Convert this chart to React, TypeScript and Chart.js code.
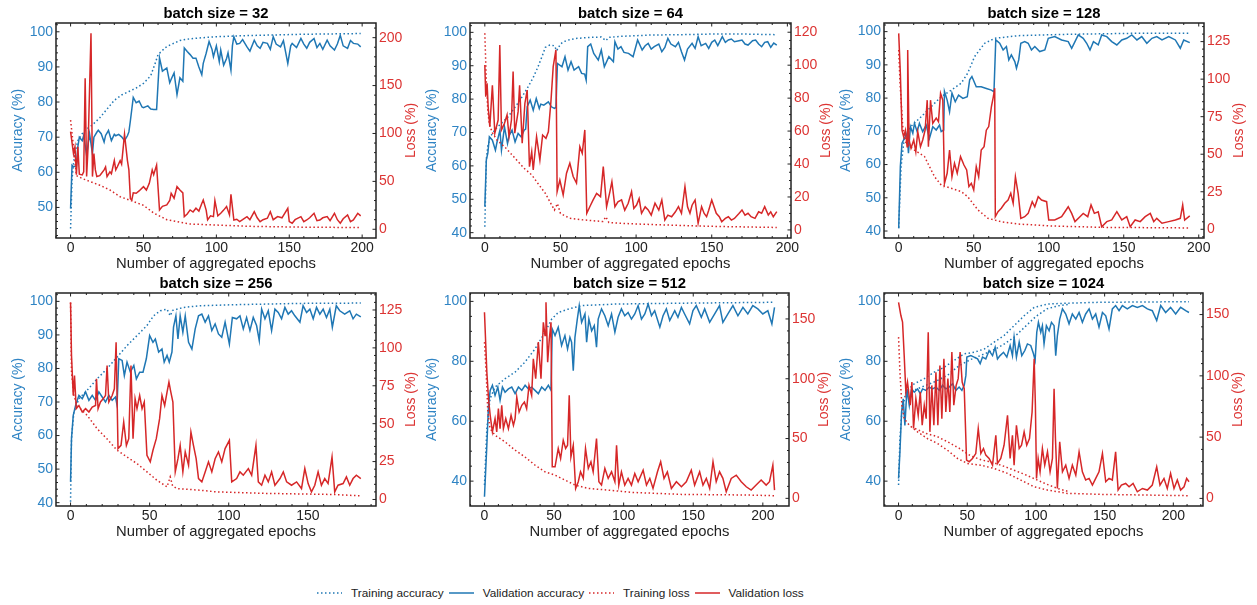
import React, { useEffect, useRef } from "react";
import { Chart, registerables } from "chart.js";

Chart.register(...registerables);

// ---------- labels / ticks ----------
const PANEL_TITLES = ["batch size = 32", "batch size = 64", "batch size = 128", "batch size = 256", "batch size = 512", "batch size = 1024"];
const X_LABEL = "Number of aggregated epochs";
const ACC_LABEL = "Accuracy (%)";
const LOSS_LABEL = "Loss (%)";
const LEGEND_LABELS = ["Training accuracy", "Validation accuracy", "Training loss", "Validation loss"];

const X_TICKS_200 = [0, 50, 100, 150, 200];
const X_TICKS_150 = [0, 50, 100, 150];
const ACC_TICKS_50 = [50, 60, 70, 80, 90, 100];
const ACC_TICKS_40 = [40, 50, 60, 70, 80, 90, 100];
const ACC_TICKS_20 = [40, 60, 80, 100];
const LOSS_TICKS_200 = [0, 50, 100, 150, 200];
const LOSS_TICKS_120 = [0, 20, 40, 60, 80, 100, 120];
const LOSS_TICKS_125 = [0, 25, 50, 75, 100, 125];
const LOSS_TICKS_150 = [0, 50, 100, 150];

// ---------- batch size 32 ----------
const TRAIN_ACC_EP_32 = [0, 1, 2, 3, 5, 8, 10, 15, 20, 25, 30, 35, 40, 45, 50, 55, 58, 60, 65, 68, 75, 80, 90, 100, 120, 140, 160, 180, 199];
const TRAIN_ACC_32 = [44, 58, 62.5, 65.5, 69, 71, 72, 73.5, 75.5, 78, 80.5, 82, 83, 84, 85.3, 87.5, 91, 93.5, 95.5, 96.2, 97.5, 97.9, 98.3, 98.6, 98.9, 99.1, 99.3, 99.4, 99.5];
const TRAIN_LOSS_EP_32 = [0, 2, 4, 8, 13, 20, 27, 34, 43, 50, 57, 66, 82, 98, 125, 160, 199];
const TRAIN_LOSS_32 = [114, 86, 56, 53, 50, 46, 41, 34, 29, 25, 17, 10, 5.5, 4.5, 3, 2.2, 1.8];
const VAL_ACC_EP_32 = [0, 1, 2, 4, 5, 6, 8, 9, 11, 13, 15, 16, 18, 19, 21, 23, 24, 26, 28, 30, 31, 33, 35, 37, 39, 40, 41, 43, 45, 47, 49, 50, 53, 55, 57, 59, 61, 63, 66, 68, 69, 71, 73, 75, 77, 78, 80, 82, 84, 86, 88, 90, 91, 93, 95, 97, 98, 100, 102, 103, 105, 107, 108, 110, 111, 112, 114, 116, 118, 121, 123, 126, 128, 130, 132, 135, 137, 139, 141, 144, 146, 149, 151, 152, 155, 158, 160, 162, 164, 167, 169, 171, 173, 176, 178, 181, 183, 185, 187, 190, 192, 194, 197, 199];
const VAL_ACC_32 = [49.7, 62, 61.6, 61.8, 67.3, 70, 69, 70.5, 64.8, 71, 65.3, 70, 71.4, 72, 71, 68.6, 70.5, 71.9, 69, 70.8, 70.4, 70.8, 70.1, 69, 70.4, 71.5, 74.6, 81.3, 79.8, 80.3, 78.6, 78.4, 78.9, 78, 77.9, 77.9, 92.6, 88.8, 89.7, 85.5, 86.5, 88.3, 82.1, 86.9, 85.9, 95.4, 94.4, 93.5, 92.5, 92.5, 90, 87.8, 91, 93.9, 97.2, 95, 92.9, 96, 91.5, 94.8, 90.5, 92.4, 94, 89.1, 96, 98.6, 96.5, 96.7, 97.8, 95.7, 94.5, 97.6, 96, 95.3, 97, 96.7, 95, 98.6, 96.5, 95.7, 97.5, 91, 96, 96.7, 95.5, 98.1, 96.5, 95.3, 97, 98.1, 95.5, 96.7, 95, 97.6, 96, 94.8, 96.5, 99, 96, 95.3, 97.5, 96.7, 96.5, 95.7];
const VAL_LOSS_EP_32 = [0, 2, 3, 4, 5, 6, 8, 9, 10, 11, 12, 14, 15, 16, 17, 18, 20, 21, 23, 24, 25, 27, 28, 30, 31, 32, 34, 35, 37, 39, 40, 41, 42, 43, 45, 47, 50, 52, 54, 56, 57, 59, 61, 63, 66, 68, 69, 71, 73, 75, 77, 78, 80, 82, 84, 86, 88, 90, 91, 93, 94, 96, 98, 99, 101, 103, 105, 107, 109, 110, 112, 114, 116, 118, 121, 123, 126, 128, 130, 132, 135, 137, 139, 142, 145, 149, 150, 152, 154, 158, 160, 162, 164, 167, 169, 171, 173, 176, 178, 181, 183, 185, 187, 190, 192, 194, 197, 199];
const VAL_LOSS_32 = [102, 79, 86, 57, 86, 57.5, 56.7, 60, 157.6, 55, 86, 204.6, 55, 79, 62, 55, 56, 58, 62, 65, 55, 60, 58, 71.7, 62, 65, 71.7, 68, 99.2, 71.7, 62, 32, 30.6, 38, 37.6, 40, 44.5, 41, 48, 62, 57, 67, 20.2, 24, 25.4, 30, 37.6, 32.4, 44.5, 41, 38, 13.2, 16, 20.2, 18, 22, 19, 27, 30.6, 20, 9.8, 14, 13.2, 30, 14, 16.7, 20, 23.7, 15, 36.5, 9.7, 10.5, 8, 10, 13.2, 10, 18.4, 12, 8, 10, 11.5, 18.4, 10, 13.2, 12, 21.9, 8, 6.3, 10, 13.2, 8, 9.7, 12, 16.7, 9, 9.7, 12, 13.2, 9, 16.7, 10, 6.3, 11, 15, 8, 9.7, 16.7, 14];

// ---------- batch size 64 ----------
const TRAIN_ACC_EP_64 = [0, 1, 2, 4, 7, 11, 15, 19, 23, 26, 29, 32, 35, 38, 40, 43, 46, 47.5, 50, 52, 56, 61, 70, 77, 80, 82, 90, 100, 110, 130, 150, 170, 193];
const TRAIN_ACC_64 = [41.8, 62, 66, 69, 71, 72.8, 74.5, 77, 79.5, 81.7, 84, 86.5, 89.5, 93, 95.5, 96.2, 96, 94.5, 96.5, 97.2, 97.8, 98.2, 98.5, 98.6, 97.5, 98.5, 98.8, 99, 99.2, 99.3, 99.5, 99.5, 99.3];
const TRAIN_LOSS_EP_64 = [0, 1, 2, 3, 5, 8, 14, 21, 26, 31, 35, 40, 43, 46, 48, 50, 56, 65, 78, 80, 82, 90, 100, 120, 140, 160, 193];
const TRAIN_LOSS_64 = [119.4, 90, 72, 64, 59, 54.6, 49.6, 42.5, 37.4, 33.4, 28.3, 22.2, 17.1, 12.1, 16, 10, 7.1, 6.1, 5.1, 8, 4.5, 4, 3.6, 3, 2.4, 2, 1.5];
const VAL_ACC_EP_64 = [0, 1, 2, 3, 5, 7, 8, 10, 11, 13, 15, 16, 18, 20, 22, 24, 26, 27, 28, 30, 32, 34, 36, 37, 39, 42, 44, 46, 47, 48, 51, 53, 55, 57, 59, 62, 64, 66, 67, 68, 70, 72, 75, 77, 79, 82, 85, 86, 88, 90, 92, 95, 98, 101, 104, 106, 108, 110, 112, 115, 117, 119, 121, 123, 126, 128, 130, 132, 134, 137, 139, 141, 143, 146, 148, 150, 152, 154, 157, 159, 161, 163, 165, 168, 170, 172, 174, 177, 179, 181, 183, 185, 187, 189, 191, 193];
const VAL_ACC_64 = [47.8, 61.8, 63.8, 68.7, 67.7, 64.7, 67, 70.7, 64.7, 71.7, 66.7, 69, 70.7, 67.2, 69.7, 68.7, 70.7, 71, 77.7, 79.7, 76.7, 80.2, 77.2, 78.5, 78.2, 79.2, 77.7, 77.2, 77.5, 90.7, 89.7, 92.7, 88.7, 91.2, 88.7, 89.7, 87.7, 87.5, 85.7, 95.7, 96.5, 93.7, 91.7, 94.7, 89.7, 92.7, 91.2, 97.2, 95, 95.7, 94, 93.7, 92.7, 97.7, 94.7, 96, 96.7, 95, 95.7, 96.5, 94.2, 95.5, 98.2, 96.5, 95.7, 97, 94.2, 91.7, 95, 96.7, 95.2, 98.7, 96, 96.7, 95.2, 97, 97.7, 96, 98.7, 97, 97.7, 98, 97.2, 97.5, 97.7, 96.5, 96.2, 97.5, 97.7, 96.5, 95.7, 97, 97.2, 95.5, 96.8, 96.2];
const VAL_LOSS_EP_64 = [0, 0.6, 1.5, 2.2, 3.3, 5, 6.6, 8.8, 9.9, 11, 13, 14.7, 16, 17.6, 18.7, 19.8, 22, 23, 24.7, 26.5, 28, 29.5, 31, 32, 34.2, 36.4, 38.2, 40.4, 42, 43.7, 45.2, 47, 47.8, 49.6, 51.8, 54, 56.2, 58.4, 60.6, 62.8, 64.4, 66.1, 67.4, 69.4, 71.6, 73.9, 76.5, 78.3, 80.5, 82.7, 84, 86, 88, 90.4, 92.5, 94.8, 97, 98.5, 100.3, 102, 103.6, 106, 108, 110, 112.5, 115, 117, 119, 121, 123.5, 126, 128, 130, 132.3, 134, 135.6, 137, 139, 141, 143.3, 145, 146.6, 148, 150, 153, 155, 156.6, 159, 161, 163, 165, 168, 170, 172, 174, 176, 178.6, 181, 183, 185, 187.4, 189, 190.7, 193];
const VAL_LOSS_64 = [100.1, 80.9, 89, 74.8, 62.7, 87.8, 58.7, 66.7, 112.3, 60.7, 64.7, 69.8, 56.6, 66.7, 96.1, 58.7, 71.8, 87.8, 52.6, 76.9, 84.9, 38.4, 47.5, 36.4, 56.6, 42.5, 57.6, 55.6, 59.6, 77.9, 99.1, 109.3, 23.3, 30.3, 21.2, 34.4, 40.5, 32.4, 28.4, 50.5, 46.5, 60.7, 10.1, 14.1, 18.2, 22.2, 20.2, 38.4, 14.1, 23.3, 29.3, 14.1, 17, 18.2, 12, 16.2, 23.2, 13, 15.1, 19, 10.1, 14, 12.1, 9, 16.2, 12, 18.2, 6, 9, 8, 11, 14.1, 10.1, 26.3, 14, 10.1, 15, 18.2, 4, 14.1, 10, 8, 12, 18.2, 10.1, 8, 5, 7, 8, 6, 7, 10, 12.1, 9, 10.1, 8, 7, 11, 10.1, 14.1, 9.1, 11, 8, 11.1];

// ---------- batch size 128 ----------
const TRAIN_ACC_EP_128 = [0, 1.6, 3.8, 8, 15, 21.6, 28.3, 35, 41.7, 46, 50.6, 57.3, 64, 80, 113, 157, 194];
const TRAIN_ACC_128 = [41, 59.4, 68.4, 71.4, 74.4, 77.4, 80.4, 82.4, 84.5, 87.5, 92.5, 96.5, 98, 98.8, 99.2, 99.5, 99.5];
const TRAIN_LOSS_EP_128 = [0, 0.9, 2.7, 4.9, 10.5, 17.2, 23.9, 28.3, 35, 41.7, 46, 52.8, 59.5, 68.5, 79.6, 102, 135, 194];
const TRAIN_LOSS_128 = [119.4, 97.2, 68.4, 57.3, 52.8, 48.4, 35, 29.5, 27.3, 25.1, 21.7, 12.9, 7.3, 5, 3.5, 2.2, 1.3, 0.9];
const VAL_ACC_EP_128 = [0, 1.1, 2.2, 3.8, 5.6, 6.5, 7.8, 9.4, 10.5, 12.3, 13.8, 16, 18.3, 20.5, 22.7, 25, 27.2, 28.3, 30, 30.5, 32.3, 33.9, 35.5, 37.7, 39.9, 42.8, 45.7, 47.3, 48.8, 51.7, 55, 58.4, 61.8, 63.5, 64.7, 67.3, 69.6, 71.8, 73.4, 75.1, 77.4, 78.5, 80, 81.4, 84, 86.3, 88.5, 90.7, 94, 97.4, 99.7, 104, 108.6, 113, 115.3, 117.5, 119.7, 123, 125.3, 127.5, 129.8, 133, 135.3, 138.7, 142, 145.4, 148.7, 152, 155.4, 158.8, 162, 165.4, 168.8, 172, 175.5, 180, 184.4, 187.7, 190, 194];
const VAL_ACC_128 = [40.8, 59.4, 66.4, 67.9, 69.4, 63.4, 71.4, 69.4, 72.4, 69.9, 72.4, 69.9, 71.9, 67.9, 71.4, 70.4, 71.9, 69.9, 70.4, 82, 79.4, 75.9, 81.5, 78.9, 80.9, 79.9, 80.4, 85.5, 86.5, 83.4, 83.4, 82.9, 82.4, 81.9, 97.5, 96.5, 94.5, 95.5, 91.5, 93, 91, 89, 91.5, 96.5, 97, 96.5, 94.5, 95.5, 94, 94.5, 98, 98.5, 97.5, 97, 95, 97, 99, 98, 96.5, 94.5, 97, 96, 99, 98.5, 97, 96, 97.5, 98, 99, 97.5, 98.5, 96.5, 98, 98.5, 97.5, 98.5, 97.5, 95, 97.5, 96.7];
const VAL_LOSS_EP_128 = [0, 1.1, 2.2, 3.3, 4.5, 5.6, 6, 6.9, 8.2, 10, 11.4, 12.7, 14.5, 16, 17.6, 19, 19.8, 21.2, 22.7, 25, 26.5, 27.9, 29.4, 30.5, 32.3, 33.9, 35.5, 37.2, 39, 41.2, 43.5, 45.3, 46.8, 48.4, 50, 51.7, 53.3, 55, 56.9, 58.4, 60, 61.8, 63.1, 64, 64.4, 66.2, 68.4, 70.7, 72.9, 74.7, 76.3, 77.8, 79.6, 81.4, 84, 86.3, 89, 90.7, 93, 95.2, 98.6, 100, 104, 108.6, 110.8, 113, 115.3, 117.5, 120.8, 123, 126, 128.2, 130.4, 133, 135.3, 138.7, 142, 145.4, 148.7, 152, 154.3, 157.6, 161, 164.3, 167.7, 170, 172, 175.5, 180, 184.4, 187.7, 189.3, 190.6, 194];
const VAL_LOSS_128 = [130.5, 103.9, 66.1, 61.7, 66, 55, 119.4, 59.5, 54, 59.5, 51.7, 65, 55, 59.5, 66, 86, 55, 86, 70.6, 74, 71.7, 90.6, 86, 30.6, 37.3, 52.8, 35, 43.9, 37.3, 48.4, 42.8, 39.5, 28.4, 30.6, 26.2, 41.7, 35, 52.8, 55, 66, 68.4, 81.7, 88.4, 94, 8.4, 11.7, 14, 17.3, 19.5, 24, 17.3, 35, 24, 7.3, 8.4, 10.6, 18.4, 15, 21.7, 19.5, 18.4, 6.2, 6.2, 8.4, 11.7, 15, 10.6, 5.1, 8.4, 10.6, 8.4, 16.2, 10.6, 11.7, 1.7, 5.1, 6.2, 11.7, 6.2, 8.4, 1.7, 6.2, 5.1, 8.4, 10.6, 5.1, 7.3, 4, 5.1, 6.2, 7.3, 16.2, 6.2, 8.9];

// ---------- batch size 256 ----------
const TRAIN_ACC_EP_256 = [0, 0.6, 2.1, 5.3, 10.5, 16.8, 23, 29.4, 35.7, 42, 48.3, 52.5, 56.7, 61, 63, 64.5, 71.4, 82, 103, 145, 183.5];
const TRAIN_ACC_256 = [40.3, 59.1, 67, 71, 73.5, 76.9, 79.9, 83.4, 86.8, 89.8, 92.8, 95.7, 97.2, 97.7, 95.7, 97.3, 98.2, 98.7, 99, 99.4, 99.5];
const TRAIN_LOSS_EP_256 = [0, 0.6, 2.1, 4.2, 10.5, 16.8, 23, 29.4, 35.7, 42, 48.3, 54.6, 61, 63, 64.5, 67.2, 82, 92.4, 124, 166, 183.5];
const TRAIN_LOSS_256 = [130, 84, 68.6, 62, 55.5, 46.7, 40, 32.5, 28, 23.7, 18.2, 12.7, 8.3, 14.9, 9, 7.2, 6.1, 5, 4, 3.3, 2.4];
const VAL_ACC_EP_256 = [0, 0.6, 1.7, 3.2, 5.3, 7.4, 9.5, 11.6, 13.7, 15.8, 17.9, 20, 22.1, 24.2, 26.3, 28.4, 29.4, 30.5, 32.6, 34, 35.7, 37.8, 40, 41.6, 43.7, 45.8, 47.9, 50, 52.1, 53.6, 55.7, 57.8, 59.2, 61, 62.4, 64.1, 65.1, 66.6, 67.9, 69.3, 71, 72.5, 74.6, 76.7, 78.8, 80.9, 83, 85.1, 87.2, 89.3, 91.4, 93.5, 95.6, 97.7, 100.4, 102.3, 105, 107.1, 109.2, 111.3, 113.4, 115.5, 117.6, 119.3, 120.8, 122.9, 125, 127.1, 129.2, 131.3, 133.4, 135.5, 137.6, 139.7, 141.8, 145, 147, 149.2, 151.3, 153.4, 155.5, 157.6, 159.7, 161.8, 163.9, 165.5, 168, 170.2, 173.3, 176.5, 178.6, 180.7, 183.5];
const VAL_ACC_256 = [46.2, 59.1, 66, 69, 72, 71, 73, 70.5, 72, 70.5, 73, 71.5, 70, 72, 70.5, 71.5, 69, 82.9, 82.4, 77.9, 81.9, 78.9, 80.9, 76.9, 78.9, 78.9, 82.9, 89.8, 87.8, 88.8, 84.9, 85.8, 81.9, 83.9, 81.9, 84.9, 92.3, 95.7, 88.8, 95.7, 90.8, 95.7, 87.8, 85.8, 91.8, 95.7, 96.2, 93.8, 95.7, 91.3, 93.3, 90.3, 89.3, 93.8, 87.3, 95.2, 94.8, 95.7, 91.8, 95.2, 91.3, 95.2, 92.8, 88.3, 97.7, 94.8, 97.2, 91.3, 97.7, 96.7, 94.8, 98.2, 96.2, 97.2, 95.7, 93.8, 98.7, 96.7, 97.7, 94.8, 98.2, 96.2, 97.7, 95.2, 97.7, 92.3, 98.7, 97.2, 96.2, 97.2, 94.8, 96.2, 95.4];
const VAL_LOSS_EP_256 = [0, 0.6, 1.7, 2.5, 3.6, 5.3, 7.4, 9.5, 11.6, 13.7, 15.8, 16.4, 17.4, 18.9, 20.6, 22.1, 23.1, 24.2, 26.3, 27.7, 28.8, 30, 31.9, 33.6, 35.3, 36.8, 38.2, 39.5, 40.8, 42, 43.7, 45.2, 46.6, 48.3, 50.4, 52.1, 54.2, 56.3, 57.8, 59.5, 61, 62.2, 63.4, 64.7, 66.2, 67.9, 69.3, 71, 72.5, 74.6, 76.1, 77.7, 79.4, 80.9, 83, 85.1, 87.2, 89.3, 91.4, 93.5, 95.6, 97.7, 100.4, 101.9, 105, 107.1, 109.2, 112.4, 114.5, 117.2, 118.7, 120.8, 122.9, 125, 127.1, 129.2, 132.4, 134.5, 136.6, 139.7, 142.9, 146, 148.1, 150.2, 152.3, 154.4, 156.5, 158.6, 160.7, 162.8, 165.3, 167, 169.1, 172.3, 174.4, 176.5, 178.6, 180.7, 183.5];
const VAL_LOSS_256 = [130, 95, 68.6, 81.8, 59.9, 62, 57.7, 59.9, 57.7, 61, 62, 79.6, 59.9, 64.3, 66.4, 68.6, 88.4, 64.3, 68.6, 73, 103.7, 33.6, 35.7, 51.1, 35.7, 40.1, 88.4, 40.1, 66.4, 59.9, 68.6, 59.9, 64.3, 29.2, 24.8, 32.5, 40.1, 53.3, 68.6, 62, 70.8, 77.4, 70.8, 64.3, 18.2, 26.9, 35.7, 18.2, 31.4, 22.6, 44.5, 35.7, 26.9, 13.8, 11.6, 18.2, 24.8, 18.2, 26.9, 31.4, 24.8, 33.6, 39, 11.6, 13.8, 18.2, 16, 20.4, 16, 35.7, 11.6, 9.4, 16, 11.6, 18.2, 9.4, 13.8, 18.2, 11.6, 9.4, 11.6, 7.2, 20.4, 10.5, 5, 9.4, 18.2, 9.4, 13.8, 10.5, 28, 5, 9.4, 10.5, 14.9, 9.4, 13.8, 16, 13.8];

// ---------- batch size 512 ----------
const TRAIN_ACC_EP_512 = [0, 1.7, 4, 7.6, 14.8, 22, 29, 36.3, 43.5, 48.3, 53, 60, 70, 94, 141, 208.4];
const TRAIN_ACC_512 = [38.7, 57.5, 67.5, 71.4, 74.2, 76.4, 79.7, 84.1, 89.7, 94.1, 96.3, 97.4, 98.6, 99.1, 99.4, 99.7];
const TRAIN_LOSS_EP_512 = [0, 1.2, 2.4, 4, 7.6, 14.8, 22, 29, 36.3, 43.5, 50.7, 57.8, 65, 74.6, 88.9, 105.6, 141.5, 189, 208.4];
const TRAIN_LOSS_512 = [130.6, 105.6, 72.2, 58.3, 52.8, 47.2, 40.3, 34.7, 27.8, 22.2, 19.4, 15.3, 11.1, 8.3, 6.9, 5, 3.3, 2.8, 2.2];
const VAL_ACC_EP_512 = [0, 1.7, 2.9, 4.1, 5.7, 7.6, 9.6, 11.2, 12.9, 14.8, 17.2, 19.6, 22, 24.4, 26.8, 29.2, 31.5, 33.9, 36.3, 38.7, 41.1, 43.5, 45.9, 47.8, 48.7, 50.7, 53, 55.4, 57.8, 59.7, 61.4, 62.6, 63.8, 65, 66.7, 68.1, 69.8, 72.2, 73.4, 75, 77, 78.9, 80.5, 81.7, 84.1, 86.5, 88.9, 91.3, 93.7, 96, 98.4, 100.8, 103.2, 105.6, 108, 110.4, 112.8, 115.2, 117.6, 120, 122.3, 126, 128.3, 130.7, 133.1, 136.7, 139, 141.5, 143.8, 147.4, 149.8, 152.2, 155.8, 158.2, 161.8, 165.4, 168.9, 171.3, 174.9, 178.5, 182.1, 185.7, 189.2, 192.8, 196.4, 200, 203.6, 206.5, 208.4];
const VAL_ACC_512 = [34.8, 52, 65.3, 70.3, 72, 68.6, 71.4, 67, 71.4, 69.7, 70.8, 71.4, 69.2, 71.4, 70.3, 72, 70.8, 71.4, 70.3, 69.2, 71.4, 70.3, 72, 70.3, 90.8, 88.6, 91.4, 85.3, 88.6, 84.1, 88, 86.4, 76.9, 88, 94.1, 98.6, 93, 95.8, 86.4, 94.1, 90.2, 91.9, 84.7, 94.1, 97.5, 95.2, 91.9, 95.8, 89.7, 94.7, 97.5, 95.2, 96.3, 94.1, 95.8, 98.6, 94.1, 95.8, 99.1, 95.2, 96.9, 91.4, 95.2, 97.5, 93.6, 96.9, 94.7, 98, 95.8, 92.5, 96.9, 98.6, 94.7, 97.5, 93, 95.8, 98.6, 93, 95.8, 98.6, 95.2, 98, 95.8, 98.6, 97.5, 95.8, 96.9, 92.5, 98];
const VAL_LOSS_EP_512 = [0, 1.7, 2.9, 4.1, 5.7, 7.6, 8.8, 10, 11.2, 12.4, 13.6, 15.3, 17.2, 19.1, 20.8, 22, 23.2, 24.9, 26.8, 28.7, 30.3, 32, 33.9, 35.1, 36.8, 38.7, 40.6, 42.3, 43.5, 44.2, 45.4, 46.6, 47.8, 48.7, 50.7, 53, 54.7, 56.6, 58.3, 59.7, 60.9, 62.1, 63.8, 65.5, 67.4, 69, 71, 72.6, 74.6, 76.5, 78.1, 80.5, 82.2, 84.1, 86.5, 88.9, 91.3, 93.7, 94.9, 96.5, 98.4, 100.8, 103.2, 105.6, 108, 110.4, 114, 116.4, 118.8, 121.1, 124.3, 126.6, 129, 131.4, 134.3, 137.9, 141.5, 145, 148.6, 151, 154.6, 157, 159.4, 161.8, 164.2, 166.5, 168.9, 171.3, 173.7, 177.3, 180.9, 184.5, 188.1, 191.6, 195.2, 198.8, 202.4, 204.8, 207.2, 208.4];
const VAL_LOSS_512 = [155.6, 105.6, 83.3, 69.4, 55.6, 66.7, 55.6, 75, 58.3, 77.8, 58.3, 66.7, 58.3, 69.4, 61.1, 66.7, 84.7, 72.2, 77.8, 80.6, 75, 94.4, 86.1, 116.7, 100, 130.6, 100, 147.2, 136.1, 163.9, 113.9, 133.3, 147.2, 26.4, 26.4, 41.7, 33.3, 48.6, 41.7, 44.4, 86.1, 34.7, 44.4, 8.3, 13.9, 22.2, 16.7, 41.7, 25, 30.6, 22.2, 50, 13.9, 11.1, 25, 16.7, 22.2, 13.9, 44.4, 11.1, 22.2, 11.1, 16.7, 11.1, 20.8, 13.9, 23.6, 11.1, 16.7, 8.3, 22.2, 30.6, 16.7, 22.2, 8.3, 13.9, 9.7, 13.9, 23.6, 11.1, 22.2, 11.1, 16.7, 8.3, 30.6, 13.9, 22.2, 16.7, 5.6, 16.7, 19.4, 13.9, 9.7, 6.9, 11.1, 15.3, 11.1, 13.9, 27.8, 6.9];

// ---------- batch size 1024 (two overlapping training runs) ----------
const TRAIN_ACC_EP_1024 = [0, 1, 2.4, 5.3, 11.4, 18.7, 26, 33.2, 40.5, 47.8, 55, 62.3, 69.6, 76.8, 84.1, 91.4, 98.7, 108.4, 123, 147, 211.4];
const TRAIN_ACC_1024 = [38.7, 54.2, 63.1, 69.7, 72.5, 74.2, 76.4, 78, 80.3, 82.5, 83, 84.1, 86.4, 88.6, 91.9, 95.2, 98, 99.1, 99.4, 99.7, 99.9];
const TRAIN_ACC_EP_1024_B = [12, 20, 28, 36, 44, 52, 60, 68, 76, 84, 92, 100, 108, 116, 124];
const TRAIN_ACC_1024_B = [70.5, 72, 73.5, 75.5, 78.5, 80.5, 82, 83.5, 85.5, 88, 91.5, 95, 97.5, 98.5, 99];
const TRAIN_LOSS_EP_1024 = [0, 1, 2.4, 4.1, 7.8, 13.8, 21, 28.4, 35.6, 42.9, 50.2, 59.9, 69.6, 79.3, 89, 98.7, 108.4, 123, 147, 211.4];
const TRAIN_LOSS_1024 = [131.6, 103, 76, 65.1, 59.7, 54.3, 48.8, 44.8, 39.3, 32.6, 28.5, 27.1, 24.4, 20.4, 14.9, 9.5, 6.8, 4.1, 3.3, 2.2];
const TRAIN_LOSS_EP_1024_B = [12, 20, 28, 36, 44, 52, 60, 68, 76, 84, 92, 100, 108, 116, 124];
const TRAIN_LOSS_1024_B = [57, 53, 50.5, 46, 41, 35, 31.5, 29.5, 26.5, 23, 19.5, 15.5, 11.5, 8, 5.5];
const VAL_ACC_EP_1024 = [0, 1, 2.2, 3.4, 4.6, 6.1, 7.8, 9.5, 11.4, 13.8, 15.8, 17.5, 19.9, 22.3, 24.7, 27.2, 29.6, 32, 34.4, 36.8, 39.3, 41.7, 44.1, 46.1, 47.8, 49, 49.7, 52.6, 55, 57.5, 59.4, 61.1, 63.5, 65.9, 68.4, 70.3, 72, 73.9, 76.4, 78.8, 81.2, 82.9, 84.1, 85.8, 87.8, 89.7, 91.9, 93.8, 96.2, 98.2, 99.4, 100.6, 101.8, 103.5, 104.7, 105.9, 107.6, 109.6, 111.3, 113.2, 114.4, 115.6, 117.3, 119.3, 121.7, 124.1, 126.5, 129, 131.4, 133.8, 136.2, 138.7, 141.1, 143.5, 145.9, 148.4, 150.8, 153.2, 155.6, 158, 160.5, 162.9, 166.5, 170.2, 173.8, 177.5, 181.1, 184.7, 187.9, 190.8, 194.4, 198, 201.7, 205.3, 209, 211.4];
const VAL_ACC_1024 = [40.9, 49.8, 63.1, 67.5, 58.6, 70.8, 65.3, 70.8, 69.7, 70.8, 69.2, 70.8, 70.3, 71.4, 70.8, 71.4, 70.3, 72, 70.8, 71.4, 72.5, 70.3, 71.4, 70.3, 72, 75.3, 81.4, 81.9, 81.4, 80.8, 79.2, 81.4, 80.8, 83.6, 81.9, 84.7, 80.8, 81.9, 83, 81.4, 85.3, 81.9, 88, 81.4, 86.4, 81.9, 83.6, 85.8, 85.3, 82.5, 80.3, 89.7, 93, 89.7, 91.9, 85.8, 91.9, 90.2, 93, 91.9, 81.9, 88.6, 94.1, 97.5, 95.8, 92.5, 95.8, 94.1, 96.3, 93, 95.8, 97.5, 94.1, 95.8, 91.4, 96.3, 95.2, 90.8, 97.5, 98.6, 96.9, 98.6, 97.5, 98.6, 98, 98.6, 97.5, 96.9, 93.6, 98.6, 96.3, 98, 95.8, 98, 96.9, 96.3];
const VAL_LOSS_EP_1024 = [0, 1.7, 2.9, 4.1, 5.3, 6.5, 8.5, 9.7, 10.9, 12.6, 14.3, 15.8, 17.2, 18.7, 20.1, 21.6, 22.8, 24.2, 25.7, 27.2, 28.6, 30.1, 31.5, 33, 34.4, 35.9, 37.3, 38.8, 40.2, 41.9, 43.4, 44.8, 46.3, 47.8, 49.5, 51.4, 53.8, 56.2, 58, 59.9, 61.8, 63.5, 65.9, 68.4, 70.8, 72, 74.4, 76.8, 79.3, 81.2, 82.9, 84.1, 85.8, 87.8, 89.5, 91.4, 93.3, 95.3, 97.2, 98.7, 99.6, 100.4, 101.6, 103, 104.7, 106.4, 108.4, 110.3, 112, 113.2, 114.2, 115.6, 117.3, 119.3, 121.7, 124.1, 126.5, 129, 131.4, 133.8, 136.2, 138.7, 141.1, 143.5, 145.9, 148.4, 150.8, 153.2, 155.6, 158, 159.8, 162.2, 165.3, 167.8, 170.7, 173.8, 177.5, 181.1, 184.7, 187.9, 190.3, 193.2, 195.6, 198, 200.5, 202.9, 205.3, 207.8, 209.7, 211.4];
const VAL_LOSS_1024 = [160, 149.2, 143.8, 116.6, 86.8, 94.9, 76, 94.9, 57, 81.4, 67.8, 86.8, 59.7, 76, 65.1, 135.6, 54.3, 92.2, 59.7, 103, 59.7, 108.5, 65.1, 113.9, 70.5, 97.7, 70.5, 119.4, 76, 92.2, 97.7, 119.4, 94.9, 89.5, 31.2, 29.9, 32.6, 36.6, 57, 36.6, 40.7, 35.3, 32.6, 27.1, 51.5, 28.5, 32.6, 43.4, 67.8, 32.6, 51.5, 27.1, 59.7, 40.7, 43.4, 54.3, 43.4, 48.8, 70.5, 113.9, 76, 16.3, 32.6, 21.7, 40.7, 27.1, 38, 21.7, 32.6, 89.5, 48.8, 8.1, 46.1, 21.7, 27.1, 16.3, 27.1, 19, 38, 21.7, 15, 16.3, 10.9, 16.3, 21.7, 36.6, 13.6, 16.3, 15, 38, 6.8, 10.9, 12.2, 9.5, 12.2, 5.4, 8.1, 6.8, 10.9, 25.8, 10.9, 16.3, 8.1, 20.4, 8.1, 15, 6.8, 9.5, 16.3, 13.6];

// ---------- styling / layout ----------
const BLUE = "#1f77b4";
const RED = "#d62728";
const BLUE_TEXT = "#2f84c4";
const RED_TEXT = "#dc3433";
const INK = "#222222";
const FONT = '"Liberation Sans", Arial, Helvetica, sans-serif';
const TICK_SIZE = 14;
const YLABEL_SIZE = 14;
const XLABEL_SIZE = 14.8;
const TITLE_SIZE = 14.8;
const LEGEND_SIZE = 11.8;

const LEFT_W = 56;
const RIGHT_W = 50;
const TOP_H = 26;
const BOTTOM_H = 42;

type Series = { ep: number[]; v: number[] };
type PanelDef = {
  title: string;
  frame: { l: number; t: number; r: number; b: number };
  xRange: [number, number];
  accRange: [number, number];
  lossRange: [number, number];
  xTicks: number[];
  accTicks: number[];
  lossTicks: number[];
  xMajor: number; xMinor: number;
  accMajor: number; accMinor: number;
  lossMajor: number; lossMinor: number;
  trainAcc: Series[]; valAcc: Series; trainLoss: Series[]; valLoss: Series;
};

const PANELS: PanelDef[] = [
  {
    title: PANEL_TITLES[0], frame: { l: 56, t: 23, r: 376, b: 238 },
    xRange: [-10, 209.5], accRange: [41.3, 102.5], lossRange: [-9.1, 215.3],
    xTicks: X_TICKS_200, accTicks: ACC_TICKS_50, lossTicks: LOSS_TICKS_200,
    xMajor: 50, xMinor: 10, accMajor: 10, accMinor: 2, lossMajor: 50, lossMinor: 10,
    trainAcc: [{ ep: TRAIN_ACC_EP_32, v: TRAIN_ACC_32 }], valAcc: { ep: VAL_ACC_EP_32, v: VAL_ACC_32 },
    trainLoss: [{ ep: TRAIN_LOSS_EP_32, v: TRAIN_LOSS_32 }], valLoss: { ep: VAL_LOSS_EP_32, v: VAL_LOSS_32 },
  },
  {
    title: PANEL_TITLES[1], frame: { l: 470, t: 23, r: 791, b: 238 },
    xRange: [-9.8, 202.4], accRange: [38.4, 102.8], lossRange: [-4.9, 125.6],
    xTicks: X_TICKS_200, accTicks: ACC_TICKS_40, lossTicks: LOSS_TICKS_120,
    xMajor: 50, xMinor: 10, accMajor: 10, accMinor: 2, lossMajor: 20, lossMinor: 5,
    trainAcc: [{ ep: TRAIN_ACC_EP_64, v: TRAIN_ACC_64 }], valAcc: { ep: VAL_ACC_EP_64, v: VAL_ACC_64 },
    trainLoss: [{ ep: TRAIN_LOSS_EP_64, v: TRAIN_LOSS_64 }], valLoss: { ep: VAL_LOSS_EP_64, v: VAL_LOSS_64 },
  },
  {
    title: PANEL_TITLES[2], frame: { l: 884, t: 23, r: 1204, b: 238 },
    xRange: [-9.8, 203.5], accRange: [37.9, 102.6], lossRange: [-5.8, 137.4],
    xTicks: X_TICKS_200, accTicks: ACC_TICKS_40, lossTicks: LOSS_TICKS_125,
    xMajor: 50, xMinor: 10, accMajor: 10, accMinor: 2, lossMajor: 25, lossMinor: 5,
    trainAcc: [{ ep: TRAIN_ACC_EP_128, v: TRAIN_ACC_128 }], valAcc: { ep: VAL_ACC_EP_128, v: VAL_ACC_128 },
    trainLoss: [{ ep: TRAIN_LOSS_EP_128, v: TRAIN_LOSS_128 }], valLoss: { ep: VAL_LOSS_EP_128, v: VAL_LOSS_128 },
  },
  {
    title: PANEL_TITLES[3], frame: { l: 56, t: 293, r: 376, b: 506 },
    xRange: [-9.2, 193.1], accRange: [39, 102.5], lossRange: [-4.3, 136.2],
    xTicks: X_TICKS_150, accTicks: ACC_TICKS_40, lossTicks: LOSS_TICKS_125,
    xMajor: 50, xMinor: 10, accMajor: 10, accMinor: 2, lossMajor: 25, lossMinor: 5,
    trainAcc: [{ ep: TRAIN_ACC_EP_256, v: TRAIN_ACC_256 }], valAcc: { ep: VAL_ACC_EP_256, v: VAL_ACC_256 },
    trainLoss: [{ ep: TRAIN_LOSS_EP_256, v: TRAIN_LOSS_256 }], valLoss: { ep: VAL_LOSS_EP_256, v: VAL_LOSS_256 },
  },
  {
    title: PANEL_TITLES[4], frame: { l: 470, t: 293, r: 789, b: 506 },
    xRange: [-10.4, 218.8], accRange: [31.7, 102.8], lossRange: [-6.4, 171.7],
    xTicks: X_TICKS_200, accTicks: ACC_TICKS_20, lossTicks: LOSS_TICKS_150,
    xMajor: 50, xMinor: 10, accMajor: 20, accMinor: 5, lossMajor: 50, lossMinor: 10,
    trainAcc: [{ ep: TRAIN_ACC_EP_512, v: TRAIN_ACC_512 }], valAcc: { ep: VAL_ACC_EP_512, v: VAL_ACC_512 },
    trainLoss: [{ ep: TRAIN_LOSS_EP_512, v: TRAIN_LOSS_512 }], valLoss: { ep: VAL_LOSS_EP_512, v: VAL_LOSS_512 },
  },
  {
    title: PANEL_TITLES[5], frame: { l: 884, t: 293, r: 1203, b: 506 },
    xRange: [-10.6, 221.6], accRange: [31.7, 102.8], lossRange: [-6.2, 167.6],
    xTicks: X_TICKS_200, accTicks: ACC_TICKS_20, lossTicks: LOSS_TICKS_150,
    xMajor: 50, xMinor: 10, accMajor: 20, accMinor: 5, lossMajor: 50, lossMinor: 10,
    trainAcc: [{ ep: TRAIN_ACC_EP_1024, v: TRAIN_ACC_1024 }, { ep: TRAIN_ACC_EP_1024_B, v: TRAIN_ACC_1024_B }],
    valAcc: { ep: VAL_ACC_EP_1024, v: VAL_ACC_1024 },
    trainLoss: [{ ep: TRAIN_LOSS_EP_1024, v: TRAIN_LOSS_1024 }, { ep: TRAIN_LOSS_EP_1024_B, v: TRAIN_LOSS_1024_B }],
    valLoss: { ep: VAL_LOSS_EP_1024, v: VAL_LOSS_1024 },
  },
];

function toPoints(s: Series) {
  return s.ep.map((x, i) => ({ x, y: s.v[i] }));
}

function isMajor(v: number, major: number) {
  const r = v / major;
  return Math.abs(r - Math.round(r)) < 1e-6;
}

function eachStep(min: number, max: number, step: number, fn: (v: number) => void) {
  for (let k = Math.ceil(min / step - 1e-9); k * step <= max + 1e-9; k++) fn(k * step);
}

function decorPlugin(p: PanelDef) {
  return {
    id: "decor",
    afterDatasetsDraw(chart: any) {
      const { ctx, chartArea: a, scales } = chart;
      const sx = scales.x, sa = scales.yAcc, sl = scales.yLoss;
      ctx.save();
      ctx.strokeStyle = INK;
      ctx.lineWidth = 1;
      const seg = (x1: number, y1: number, x2: number, y2: number) => {
        ctx.beginPath(); ctx.moveTo(x1, y1); ctx.lineTo(x2, y2); ctx.stroke();
      };
      eachStep(sx.min, sx.max, p.xMinor, (v) => {
        const px = sx.getPixelForValue(v);
        const len = isMajor(v, p.xMajor) ? 3.5 : 2;
        seg(px, a.bottom, px, a.bottom - len);
        seg(px, a.top, px, a.top + len);
      });
      eachStep(sa.min, sa.max, p.accMinor, (v) => {
        const py = sa.getPixelForValue(v);
        const len = isMajor(v, p.accMajor) ? 3.5 : 2;
        seg(a.left, py, a.left + len, py);
      });
      eachStep(sl.min, sl.max, p.lossMinor, (v) => {
        const py = sl.getPixelForValue(v);
        const len = isMajor(v, p.lossMajor) ? 3.5 : 2;
        seg(a.right, py, a.right - len, py);
      });
      ctx.lineWidth = 1.5;
      ctx.strokeRect(a.left, a.top, a.right - a.left, a.bottom - a.top);
      ctx.restore();
    },
    afterDraw(chart: any) {
      const { ctx, chartArea: a } = chart;
      const cx = (a.left + a.right) / 2;
      const cy = (a.top + a.bottom) / 2;
      ctx.save();
      ctx.textAlign = "center";
      ctx.textBaseline = "middle";
      ctx.fillStyle = "#000";
      ctx.font = `bold ${TITLE_SIZE}px ${FONT}`;
      ctx.fillText(p.title, cx, a.top - 9);
      ctx.font = `${XLABEL_SIZE}px ${FONT}`;
      ctx.fillStyle = INK;
      ctx.fillText(X_LABEL, cx, a.bottom + 25.5);
      ctx.font = `${YLABEL_SIZE}px ${FONT}`;
      ctx.save();
      ctx.translate(a.left - 38, cy);
      ctx.rotate(-Math.PI / 2);
      ctx.fillStyle = BLUE_TEXT;
      ctx.fillText(ACC_LABEL, 0, 0);
      ctx.restore();
      ctx.save();
      ctx.translate(a.right + 35.5, cy);
      ctx.rotate(-Math.PI / 2);
      ctx.fillStyle = RED_TEXT;
      ctx.fillText(LOSS_LABEL, 0, 0);
      ctx.restore();
      ctx.restore();
    },
  };
}

function PanelChart({ p }: { p: PanelDef }) {
  const ref = useRef<HTMLCanvasElement | null>(null);
  const w = p.frame.r - p.frame.l + LEFT_W + RIGHT_W;
  const h = p.frame.b - p.frame.t + TOP_H + BOTTOM_H;

  useEffect(() => {
    if (!ref.current) return;
    const tickFont = { family: FONT, size: TICK_SIZE };
    const line = (s: Series, color: string, axis: string, dotted: boolean) => ({
      data: toPoints(s),
      yAxisID: axis,
      borderColor: color,
      backgroundColor: color,
      borderWidth: 1.5,
      borderDash: dotted ? [1.5, 2.5] : [],
      borderCapStyle: "butt" as const,
      pointRadius: 0,
      pointHoverRadius: 0,
      tension: 0,
      fill: false,
    });
    const chart = new Chart(ref.current, {
      type: "line",
      data: {
        datasets: [
          line(p.valLoss, RED, "yLoss", false),
          ...p.trainLoss.map((s) => line(s, RED, "yLoss", true)),
          line(p.valAcc, BLUE, "yAcc", false),
          ...p.trainAcc.map((s) => line(s, BLUE, "yAcc", true)),
        ],
      },
      options: {
        animation: false,
        responsive: false,
        devicePixelRatio: 1,
        events: [],
        layout: { padding: { top: TOP_H, left: 0, right: 0, bottom: 0 } },
        plugins: { legend: { display: false }, title: { display: false }, tooltip: { enabled: false } },
        scales: {
          x: {
            type: "linear",
            position: "bottom",
            min: p.xRange[0],
            max: p.xRange[1],
            afterBuildTicks: (s: any) => { s.ticks = p.xTicks.map((v) => ({ value: v })); },
            afterFit: (s: any) => { s.height = BOTTOM_H; },
            grid: { display: false, drawTicks: false },
            border: { display: false },
            ticks: { color: INK, font: tickFont, padding: 1.5, maxRotation: 0, autoSkip: false, callback: (v: any) => String(v) },
          },
          yAcc: {
            type: "linear",
            position: "left",
            min: p.accRange[0],
            max: p.accRange[1],
            afterBuildTicks: (s: any) => { s.ticks = p.accTicks.map((v) => ({ value: v })); },
            afterFit: (s: any) => { s.width = LEFT_W; },
            grid: { display: false, drawTicks: false },
            border: { display: false },
            ticks: { color: BLUE_TEXT, font: tickFont, padding: 3, autoSkip: false, callback: (v: any) => String(v) },
          },
          yLoss: {
            type: "linear",
            position: "right",
            min: p.lossRange[0],
            max: p.lossRange[1],
            afterBuildTicks: (s: any) => { s.ticks = p.lossTicks.map((v) => ({ value: v })); },
            afterFit: (s: any) => { s.width = RIGHT_W; },
            grid: { display: false, drawTicks: false },
            border: { display: false },
            ticks: { color: RED_TEXT, font: tickFont, padding: 3, autoSkip: false, callback: (v: any) => String(v) },
          },
        },
      } as any,
      plugins: [decorPlugin(p)],
    });
    return () => chart.destroy();
  }, [p]);

  return (
    <canvas
      ref={ref}
      width={w}
      height={h}
      style={{ position: "absolute", left: p.frame.l - LEFT_W, top: p.frame.t - TOP_H, width: w, height: h }}
    />
  );
}

function LegendSample({ color, dotted }: { color: string; dotted: boolean }) {
  return (
    <svg width={25} height={6} style={{ display: "block" }}>
      <line x1={0} y1={3} x2={25} y2={3} stroke={color} strokeWidth={1.5} strokeDasharray={dotted ? "1.5 2.5" : undefined} />
    </svg>
  );
}

const LEGEND_STYLES = [
  { color: BLUE, dotted: true },
  { color: BLUE, dotted: false },
  { color: RED, dotted: true },
  { color: RED, dotted: false },
];

export default function App() {
  return (
    <div style={{ position: "absolute", left: 0, top: 0, width: 1257, height: 605, background: "#fff", overflow: "hidden" }}>
      {PANELS.map((p) => (
        <PanelChart key={p.title} p={p} />
      ))}
      <div
        style={{
          position: "absolute",
          left: 317,
          top: 583,
          height: 20,
          display: "flex",
          alignItems: "center",
          whiteSpace: "nowrap",
          fontFamily: FONT,
          fontSize: LEGEND_SIZE,
          color: INK,
        }}
      >
        {LEGEND_LABELS.map((label, i) => (
          <div key={label} style={{ display: "flex", alignItems: "center", marginLeft: i === 0 ? 0 : 5 }}>
            <LegendSample color={LEGEND_STYLES[i].color} dotted={LEGEND_STYLES[i].dotted} />
            <span style={{ marginLeft: 9 }}>{label}</span>
          </div>
        ))}
      </div>
    </div>
  );
}
